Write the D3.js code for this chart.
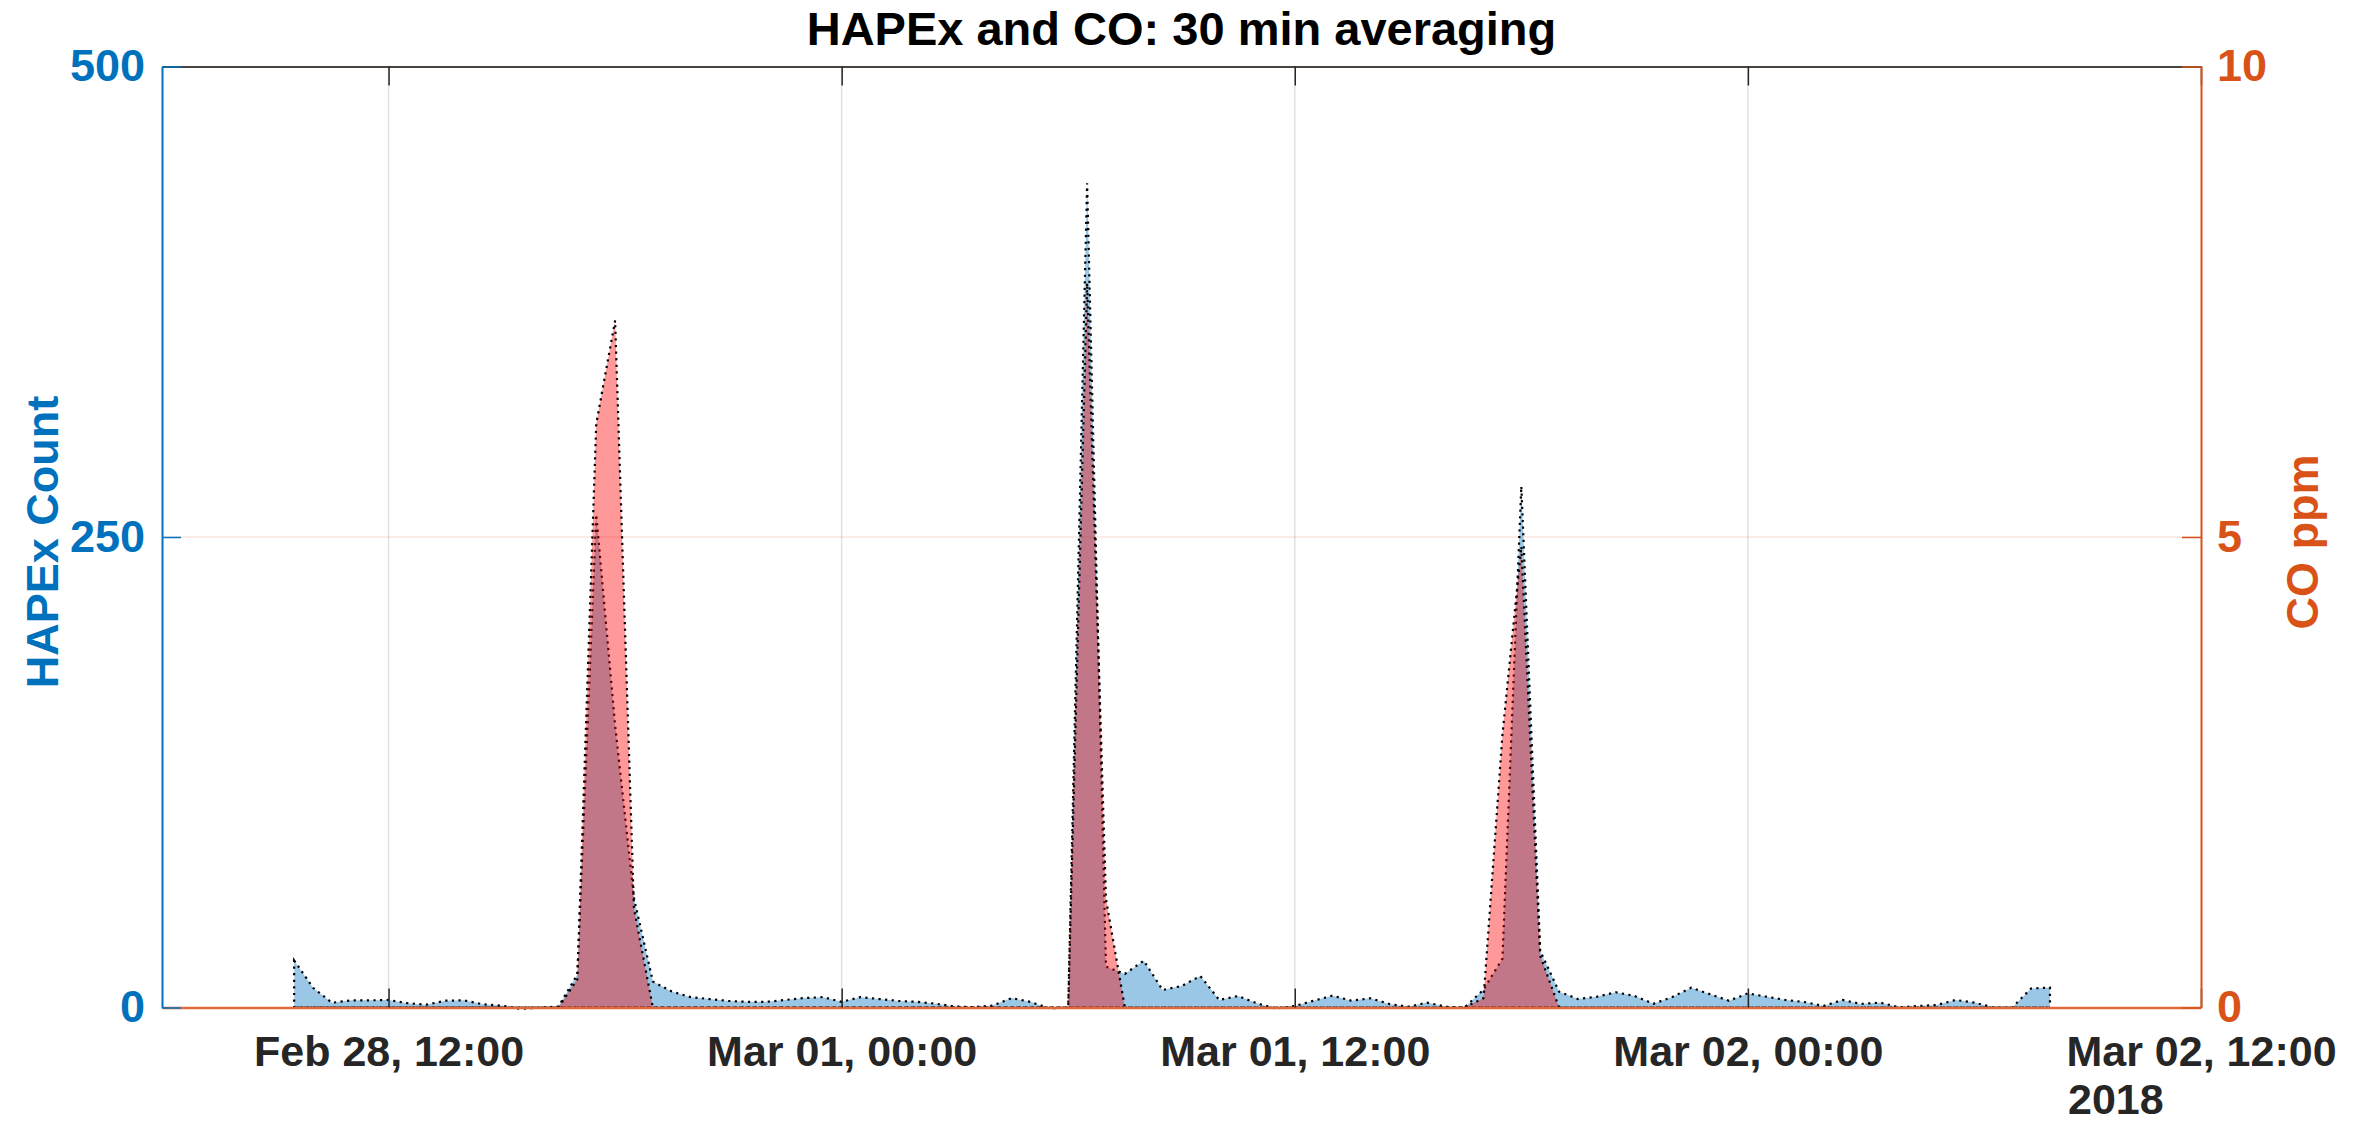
<!DOCTYPE html>
<html><head><meta charset="utf-8">
<script src="https://cdn.jsdelivr.net/npm/d3@7"></script>
<style>
body{margin:0;background:#fff;}
svg text{font-family:"Liberation Sans",Arial,Helvetica,sans-serif;font-weight:bold;}
</style>
</head><body>
<svg id="chart" width="2372" height="1125"></svg>
<script>
// ---------------- data ----------------
const chartTitle = "HAPEx and CO: 30 min averaging";
const leftAxisLabel = "HAPEx Count";
const rightAxisLabel = "CO ppm";
const yearLabel = "2018";
const firstSample = new Date(2018, 1, 28, 9, 30);   // Feb 28 09:30
const sampleStepMinutes = 30;

const hapexCount = [
  25, 10.5, 2.5, 3.8, 3.8, 4.0, 2.3, 1.5, 3.6, 3.8, 1.7, 1.0, -0.8, 0, 0.5,
  17.5, 262, 150, 58, 13.8, 8.5, 5.5, 4.5, 3.5, 3.0, 3.0, 4.0, 5.0, 5.5, 3.0,
  5.5, 4.5, 3.5, 3.0, 2.0, 0.5, 0.2, 1.0, 5.0, 3.0, -0.5, 0,
  438, 21.7, 17.8, 24.9, 9.3, 11.4, 16.7, 4.0, 6.1, 2.2, -0.6, 0.8, 3.6, 6.3,
  3.6, 4.9, 1.9, 0.4, 2.6, 0.4, 0, 9.5, 26, 277, 30, 8.4,
  4.5, 5.7, 8.1, 6.1, 2.0, 5.6, 10.5, 7.0, 3.6, 7.5, 5.7, 4.0, 2.9, 0.8, 4.0,
  1.9, 2.6, 0.1, 0.8, 1.3, 4.0, 2.6, 0, 0, 10.1, 10.6
];
const coPpm = [
  0, 0, 0, 0, 0, 0, 0, 0, 0, 0, 0, 0, 0, 0, 0,
  0.3, 6.2, 7.3, 1.05, 0, 0, 0, 0, 0, 0, 0, 0, 0, 0, 0,
  0, 0, 0, 0, 0, 0, 0, 0, 0, 0, 0, 0,
  7.7, 1.15, 0, 0, 0, 0, 0, 0, 0, 0, 0, 0, 0, 0,
  0, 0, 0, 0, 0, 0, 0, 0.1, 2.9, 4.9, 0.55, 0,
  0, 0, 0, 0, 0, 0, 0, 0, 0, 0, 0, 0, 0, 0, 0,
  0, 0, 0, 0, 0, 0, 0, 0, 0, 0, 0
];
const xDomain = [new Date(2018, 1, 28, 6, 0), new Date(2018, 2, 2, 12, 0)];
const xTickValues = [
  new Date(2018, 1, 28, 12, 0), new Date(2018, 2, 1, 0, 0), new Date(2018, 2, 1, 12, 0),
  new Date(2018, 2, 2, 0, 0), new Date(2018, 2, 2, 12, 0)
];
const leftTicks = [0, 250, 500];
const rightTicks = [0, 5, 10];
const leftDomain = [0, 500];
const rightDomain = [0, 10];

// ---------------- layout ----------------
const L = 162, R = 2201, T = 66.5, B = 1007.5;
const blue = "#0072BD", orange = "#D95319", dark = "#262626";
const svg = d3.select("#chart");

const times = hapexCount.map((_, i) => d3.timeMinute.offset(firstSample, i * sampleStepMinutes));
const data = times.map((t, i) => ({t, h: hapexCount[i], c: coPpm[i]}));

const x = d3.scaleTime().domain(xDomain).range([L, R]);
const yL = d3.scaleLinear().domain(leftDomain).range([B, T]);
const yR = d3.scaleLinear().domain(rightDomain).range([B, T]);

// grid
svg.append("g").selectAll("line").data(xTickValues.slice(0, -1)).join("line")
  .attr("x1", d => x(d)).attr("x2", d => x(d)).attr("y1", T).attr("y2", B)
  .attr("stroke", "#e1e1e1").attr("stroke-width", 1.5);
svg.append("g").selectAll("line").data(rightTicks.slice(1, -1)).join("line")
  .attr("x1", L).attr("x2", R).attr("y1", d => yR(d)).attr("y2", d => yR(d))
  .attr("stroke", "rgba(217,83,25,0.15)").attr("stroke-width", 1.5);

// areas
const areaH = d3.area().x(d => x(d.t)).y0(yL(0)).y1(d => yL(d.h));
const areaC = d3.area().x(d => x(d.t)).y0(yR(0)).y1(d => yR(d.c));
svg.append("path").datum(data).attr("d", areaH)
  .attr("fill", "rgba(0,114,189,0.4)").attr("stroke", "#000")
  .attr("stroke-width", 2.2).attr("stroke-dasharray", "2.2,4.4");
svg.append("path").datum(data).attr("d", areaC)
  .attr("fill", "rgba(255,0,0,0.4)").attr("stroke", "#000")
  .attr("stroke-width", 2.2).attr("stroke-dasharray", "2.2,4.4");

// axes
const fmt = d3.timeFormat("%b %d, %H:%M");
const gB = svg.append("g").attr("transform", `translate(0,${B})`)
  .call(d3.axisBottom(x).tickValues(xTickValues).tickFormat(fmt).tickSize(-19).tickSizeOuter(0).tickPadding(28));
gB.select(".domain").attr("stroke", "#e4673c").attr("stroke-width", 2.5);
gB.selectAll(".tick line").attr("stroke", dark).attr("stroke-width", 1.5);
gB.selectAll(".tick text").attr("fill", dark).attr("font-size", 43);

const gT = svg.append("g").attr("transform", `translate(0,${T})`)
  .call(d3.axisTop(x).tickValues(xTickValues).tickFormat("").tickSize(-19).tickSizeOuter(0));
gT.select(".domain").attr("stroke", "#4a4440").attr("stroke-width", 2);
gT.selectAll(".tick line").attr("stroke", dark).attr("stroke-width", 1.5);

const gL = svg.append("g").attr("transform", `translate(${L},0)`)
  .call(d3.axisLeft(yL).tickValues(leftTicks).tickSize(-19).tickSizeOuter(0).tickPadding(17));
gL.select(".domain").attr("stroke", blue).attr("stroke-width", 2);
gL.selectAll(".tick line").attr("stroke", blue).attr("stroke-width", 1.5);
gL.selectAll(".tick text").attr("fill", blue).attr("font-size", 45);

const gR = svg.append("g").attr("transform", `translate(${R},0)`)
  .call(d3.axisRight(yR).tickValues(rightTicks).tickSize(-19).tickSizeOuter(0).tickPadding(16));
gR.select(".domain").attr("stroke", orange).attr("stroke-width", 2);
gR.selectAll(".tick line").attr("stroke", orange).attr("stroke-width", 1.5);
gR.selectAll(".tick text").attr("fill", orange).attr("font-size", 45);

svg.selectAll(".domain").attr("fill", "none");
svg.selectAll("g").attr("font-family", null);

// year label
const lastTickLabelStart = x(xTickValues[xTickValues.length - 1]) - 133;
svg.append("text").attr("x", lastTickLabelStart).attr("y", 1114)
  .attr("font-size", 43).attr("fill", dark).text(yearLabel);

// title
svg.append("text").attr("x", (L + R) / 2).attr("y", 45).attr("text-anchor", "middle")
  .attr("font-size", 47).attr("fill", "#000").text(chartTitle);

// axis labels
svg.append("text").attr("transform", `translate(58,${(T + B) / 2 + 5}) rotate(-90)`)
  .attr("text-anchor", "middle").attr("font-size", 45).attr("fill", blue).text(leftAxisLabel);
svg.append("text").attr("transform", `translate(2318,${(T + B) / 2 + 5}) rotate(-90)`)
  .attr("text-anchor", "middle").attr("font-size", 45).attr("fill", orange).text(rightAxisLabel);
</script>
</body></html>
